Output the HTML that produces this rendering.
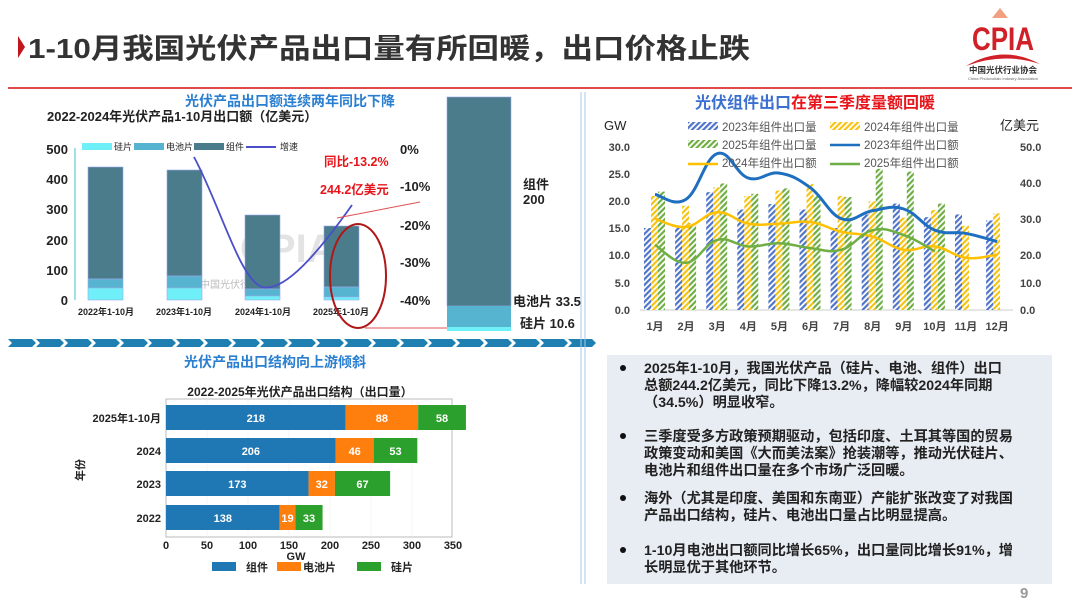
<!DOCTYPE html>
<html><head><meta charset="utf-8"><style>
body{margin:0;background:#fff;}
svg{display:block;font-family:"Liberation Sans","Noto Sans CJK SC",sans-serif;}
.b{font-weight:bold;}
</style></head><body>
<svg id="s" width="1080" height="608" viewBox="0 0 1080 608" xmlns="http://www.w3.org/2000/svg">
<defs>
<pattern id="h1" width="4" height="4" patternUnits="userSpaceOnUse" patternTransform="rotate(45)"><rect width="4" height="4" fill="#fff"/><rect width="2.2" height="4" fill="#4f74c8"/></pattern>
<pattern id="h2" width="4" height="4" patternUnits="userSpaceOnUse" patternTransform="rotate(45)"><rect width="4" height="4" fill="#fff"/><rect width="2.2" height="4" fill="#f5c314"/></pattern>
<pattern id="h3" width="4" height="4" patternUnits="userSpaceOnUse" patternTransform="rotate(45)"><rect width="4" height="4" fill="#fff"/><rect width="2.2" height="4" fill="#6fae45"/></pattern>
</defs>
<!-- header -->
<polygon points="18,36 25,47 18,58" fill="#c0161c"/>
<text x="28" y="58" font-size="28" class="b" fill="#333" textLength="722" lengthAdjust="spacingAndGlyphs">1-10月我国光伏产品出口量有所回暖，出口价格止跌</text>
<rect x="8" y="87" width="1064" height="2" fill="#e04a4a"/>
<!-- logo -->
<g fill="#d02028">
<path d="M992 18 L1000 8 L1008 18 Z" fill="#f0a080"/>
<text x="1003" y="50" font-size="32" class="b" text-anchor="middle" textLength="62" lengthAdjust="spacingAndGlyphs">CPIA</text>
<path d="M966 66 Q1003 44 1040 64 Q1003 52 966 66 Z"/>
</g>
<text x="1003" y="73" font-size="8.5" class="b" text-anchor="middle" fill="#333">中国光伏行业协会</text>
<text x="1003" y="80" font-size="4" text-anchor="middle" fill="#666">China Photovoltaic Industry Association</text>

<!-- top-left chart -->
<text x="290" y="106" font-size="14" class="b" fill="#2a7fd0" text-anchor="middle">光伏产品出口额连续两年同比下降</text>
<text x="47" y="121" font-size="13" class="b" fill="#222">2022-2024年光伏产品1-10月出口额（亿美元）</text>
<g font-size="13" class="b" fill="#222" text-anchor="end">
<text x="68" y="154">500</text><text x="68" y="184">400</text><text x="68" y="214">300</text><text x="68" y="245">200</text><text x="68" y="275">100</text><text x="68" y="305">0</text>
</g>
<line x1="75" y1="148" x2="75" y2="300" stroke="#7fd8e0" stroke-width="1.5"/>
<g font-size="9" fill="#222">
<rect x="82" y="143" width="30" height="7" fill="#6ff0f8"/><text x="114" y="150">硅片</text>
<rect x="134" y="143" width="30" height="7" fill="#56b4d0"/><text x="166" y="150">电池片</text>
<rect x="194" y="143" width="30" height="7" fill="#4a7c8c"/><text x="226" y="150">组件</text>
<line x1="246" y1="147" x2="276" y2="147" stroke="#4a4ec8" stroke-width="2"/><text x="280" y="150">增速</text>
</g>
<text x="240" y="262" font-size="40" class="b" fill="#d8d8d8" opacity="0.7">CPIA</text>
<text x="200" y="288" font-size="10" fill="#bbb">中国光伏行业协会</text>
<g stroke="#9aa8e8" stroke-width="0.6">
<rect x="88" y="167" width="35" height="112" fill="#4a7c8c"/><rect x="88" y="279" width="35" height="9" fill="#56b4d0"/><rect x="88" y="288" width="35" height="12" fill="#6ff0f8"/>
<rect x="167" y="170" width="35" height="106" fill="#4a7c8c"/><rect x="167" y="276" width="35" height="12" fill="#56b4d0"/><rect x="167" y="288" width="35" height="12" fill="#6ff0f8"/>
<rect x="245" y="215" width="35" height="74" fill="#4a7c8c"/><rect x="245" y="289" width="35" height="7" fill="#56b4d0"/><rect x="245" y="296" width="35" height="4" fill="#6ff0f8"/>
<rect x="324" y="226" width="35" height="61" fill="#4a7c8c"/><rect x="324" y="287" width="35" height="10" fill="#56b4d0"/><rect x="324" y="297" width="35" height="3" fill="#6ff0f8"/>
</g>
<g font-size="9" class="b" fill="#222" text-anchor="middle">
<text x="106" y="315">2022年1-10月</text><text x="184" y="315">2023年1-10月</text><text x="263" y="315">2024年1-10月</text><text x="341" y="315">2025年1-10月</text>
</g>
<path d="M194 157 C220 205 240 280 262 287 C285 293 320 250 352 205" fill="none" stroke="#4a4ec8" stroke-width="1.8"/>
<g font-size="13" class="b" fill="#222">
<text x="400" y="154">0%</text><text x="400" y="191">-10%</text><text x="400" y="230">-20%</text><text x="400" y="267">-30%</text><text x="400" y="305">-40%</text>
</g>
<text x="324" y="166" font-size="12.5" class="b" fill="#e8161c">同比-13.2%</text>
<text x="320" y="194" font-size="12.5" class="b" fill="#e8161c">244.2亿美元</text>
<ellipse cx="358" cy="276" rx="28" ry="52" fill="none" stroke="#b01818" stroke-width="2"/>
<line x1="337" y1="218" x2="420" y2="202" stroke="#e05050" stroke-width="1"/>
<line x1="365" y1="328" x2="447" y2="328" stroke="#e05050" stroke-width="1"/>
<rect x="447" y="97" width="64" height="209" fill="#4a7c8c" stroke="#9aa8e8" stroke-width="0.6"/>
<rect x="447" y="306" width="64" height="21" fill="#56b4d0"/>
<rect x="447" y="327" width="64" height="4" fill="#6ff0f8"/>
<g font-size="13" class="b" fill="#222">
<text x="523" y="189">组件</text><text x="523" y="204">200</text>
<text x="513" y="306">电池片 33.5</text><text x="520" y="328">硅片 10.6</text>
</g>

<g id="chev"></g>
<line x1="581" y1="92" x2="581" y2="584" stroke="#a8c8ec" stroke-width="1"/>
<line x1="585" y1="92" x2="585" y2="584" stroke="#a8c8ec" stroke-width="1"/>

<!-- bottom-left chart -->
<text x="275" y="367" font-size="14" class="b" fill="#2a7fd0" text-anchor="middle">光伏产品出口结构向上游倾斜</text>
<text x="300" y="396" font-size="12" class="b" fill="#222" text-anchor="middle">2022-2025年光伏产品出口结构（出口量）</text>
<rect x="166" y="399" width="286" height="138" fill="none" stroke="#bbb" stroke-width="1"/>
<g stroke="#eee" stroke-width="0.6"><line x1="207" y1="399" x2="207" y2="537"/><line x1="248" y1="399" x2="248" y2="537"/><line x1="289" y1="399" x2="289" y2="537"/><line x1="330" y1="399" x2="330" y2="537"/><line x1="371" y1="399" x2="371" y2="537"/><line x1="412" y1="399" x2="412" y2="537"/></g>
<g id="hb"></g>
<g font-size="11" class="b" fill="#222" text-anchor="end">
<text x="161" y="422">2025年1-10月</text><text x="161" y="455">2024</text><text x="161" y="488">2023</text><text x="161" y="522">2022</text>
</g>
<text x="84" y="470" font-size="11" class="b" fill="#222" text-anchor="middle" transform="rotate(-90 84 470)">年份</text>
<g font-size="11" class="b" fill="#222" text-anchor="middle">
<text x="166" y="549">0</text><text x="207" y="549">50</text><text x="248" y="549">100</text><text x="289" y="549">150</text><text x="330" y="549">200</text><text x="371" y="549">250</text><text x="412" y="549">300</text><text x="453" y="549">350</text>
<text x="296" y="560">GW</text>
</g>
<g font-size="11" class="b" fill="#222">
<rect x="212" y="562" width="24" height="9" fill="#1f77b4"/><text x="246" y="571">组件</text>
<rect x="277" y="562" width="24" height="9" fill="#ff7f0e"/><text x="303" y="571">电池片</text>
<rect x="357" y="562" width="24" height="9" fill="#2ca02c"/><text x="391" y="571">硅片</text>
</g>

<!-- right chart -->
<text x="695" y="108" font-size="16" class="b" fill="#3b6fd0">光伏组件出口<tspan fill="#e8161c">在第三季度量额回暖</tspan></text>
<text x="604" y="130" font-size="13" fill="#222">GW</text>
<text x="1000" y="130" font-size="13" fill="#222">亿美元</text>
<g font-size="11" class="b" fill="#444" text-anchor="end">
<text x="630" y="151">30.0</text><text x="630" y="178">25.0</text><text x="630" y="205">20.0</text><text x="630" y="232">15.0</text><text x="630" y="259">10.0</text><text x="630" y="287">5.0</text><text x="630" y="314">0.0</text>
</g>
<g font-size="11" class="b" fill="#444">
<text x="1020" y="151">50.0</text><text x="1020" y="187">40.0</text><text x="1020" y="223">30.0</text><text x="1020" y="259">20.0</text><text x="1020" y="287">10.0</text><text x="1020" y="314">0.0</text>
</g>
<line x1="640" y1="310" x2="1013" y2="310" stroke="#ccc"/>
<g id="rc"></g>
<g font-size="11.5" fill="#555">
<rect x="688" y="122" width="30" height="8" fill="url(#h1)"/><text x="722" y="131">2023年组件出口量</text>
<rect x="830" y="122" width="30" height="8" fill="url(#h2)"/><text x="864" y="131">2024年组件出口量</text>
<rect x="688" y="140" width="30" height="8" fill="url(#h3)"/><text x="722" y="149">2025年组件出口量</text>
<line x1="830" y1="145" x2="860" y2="145" stroke="#1f6fc0" stroke-width="2.5"/><text x="864" y="149">2023年组件出口额</text>
<line x1="688" y1="164" x2="718" y2="164" stroke="#ffc000" stroke-width="2.5"/><text x="722" y="167">2024年组件出口额</text>
<line x1="830" y1="164" x2="860" y2="164" stroke="#6fae45" stroke-width="2.5"/><text x="864" y="167">2025年组件出口额</text>
</g>
<g font-size="11" class="b" fill="#444" text-anchor="middle" id="mx"></g>

<!-- text box -->
<rect x="607" y="355" width="445" height="229" fill="#e8ecf3"/>
<g font-size="14.2" class="b" fill="#222">
<circle cx="623" cy="368" r="3" fill="#111"/>
<text x="644" y="373">2025年1-10月，我国光伏产品（硅片、电池、组件）出口</text>
<text x="644" y="390">总额244.2亿美元，同比下降13.2%，降幅较2024年同期</text>
<text x="644" y="407">（34.5%）明显收窄。</text>
<circle cx="623" cy="436" r="3" fill="#111"/>
<text x="644" y="441">三季度受多方政策预期驱动，包括印度、土耳其等国的贸易</text>
<text x="644" y="458">政策变动和美国《大而美法案》抢装潮等，推动光伏硅片、</text>
<text x="644" y="475">电池片和组件出口量在多个市场广泛回暖。</text>
<circle cx="623" cy="498" r="3" fill="#111"/>
<text x="644" y="503">海外（尤其是印度、美国和东南亚）产能扩张改变了对我国</text>
<text x="644" y="520">产品出口结构，硅片、电池出口量占比明显提高。</text>
<circle cx="623" cy="550" r="3" fill="#111"/>
<text x="644" y="555">1-10月电池出口额同比增长65%，出口量同比增长91%，增</text>
<text x="644" y="572">长明显优于其他环节。</text>
</g>
<text x="1020" y="598" font-size="15" class="b" fill="#999">9</text>
</svg>
<script>
var NS="http://www.w3.org/2000/svg";
function el(p,t,a,txt){var e=document.createElementNS(NS,t);for(var k in a)e.setAttribute(k,a[k]);if(txt!=null)e.textContent=txt;document.getElementById(p).appendChild(e);return e;}
for(var x=8;x<575;x+=28){el("chev","polygon",{points:(x)+",339 "+(x+24)+",339 "+(x+28)+",343 "+(x+24)+",347 "+(x)+",347 "+(x+4)+",343",fill:"#1f7fb0"});}
var hb=[[405,218,88,58],[438,206,46,53],[471,173,32,67],[505,138,19,33]],sc=0.824,cols=["#1f77b4","#ff7f0e","#2ca02c"];
hb.forEach(function(r){var x=166;for(var i=0;i<3;i++){var w=r[i+1]*sc;el("hb","rect",{x:x,y:r[0],width:w,height:25,fill:cols[i]});el("hb","text",{x:x+w/2,y:r[0]+17,"font-size":11,"font-weight":"bold",fill:"#fff","text-anchor":"middle"},r[i+1]);x+=w;}});
var a=[15.1,15.1,21.7,18.5,19.5,18.5,15.1,17.6,19.6,17.1,17.6,16.5],b=[21,19.2,22.6,21,22,23.2,21,20,17,18.4,15.5,17.8],c=[21.8,16,23.3,21.4,22.4,21,20.8,26,25.5,19.6];
var l1=[35.5,34,48,40.5,42,37.5,28,30.5,31,24.5,23.5,21],l2=[28,25.5,30,26.5,26.5,27,24,22.5,18.5,19.5,16,17],l3=[20,14.5,21.5,19.5,20.5,19,18.5,24.5,23,18];
function cx(i){return 655+i*31.1;}function gy(v){return 310-v*5.43;}function ly(v){return 310-v*3.258;}
for(var i=0;i<12;i++){var x=cx(i);
el("rc","rect",{x:x-11,y:gy(a[i]),width:7,height:310-gy(a[i]),fill:"url(#h1)"});
el("rc","rect",{x:x-4,y:gy(b[i]),width:7,height:310-gy(b[i]),fill:"url(#h2)"});
if(i<c.length)el("rc","rect",{x:x+3,y:gy(c[i]),width:7,height:310-gy(c[i]),fill:"url(#h3)"});
el("mx","text",{x:x,y:330},(i+1)+"月");}
function path(d){var p=d.map(function(v,i){return[cx(i),ly(v)];});var s="M"+p[0][0]+" "+p[0][1];
for(var i=0;i<p.length-1;i++){var p0=p[i-1]||p[i],p1=p[i],p2=p[i+1],p3=p[i+2]||p2;var t=0.2;
s+=" C"+(p1[0]+(p2[0]-p0[0])*t)+" "+(p1[1]+(p2[1]-p0[1])*t)+" "+(p2[0]-(p3[0]-p1[0])*t)+" "+(p2[1]-(p3[1]-p1[1])*t)+" "+p2[0]+" "+p2[1];}return s;}
el("rc","path",{d:path(l2),fill:"none",stroke:"#ffc000","stroke-width":2.5});
el("rc","path",{d:path(l3),fill:"none",stroke:"#6fae45","stroke-width":2.5});
el("rc","path",{d:path(l1),fill:"none",stroke:"#1f6fc0","stroke-width":3});
</script>
</body></html>
